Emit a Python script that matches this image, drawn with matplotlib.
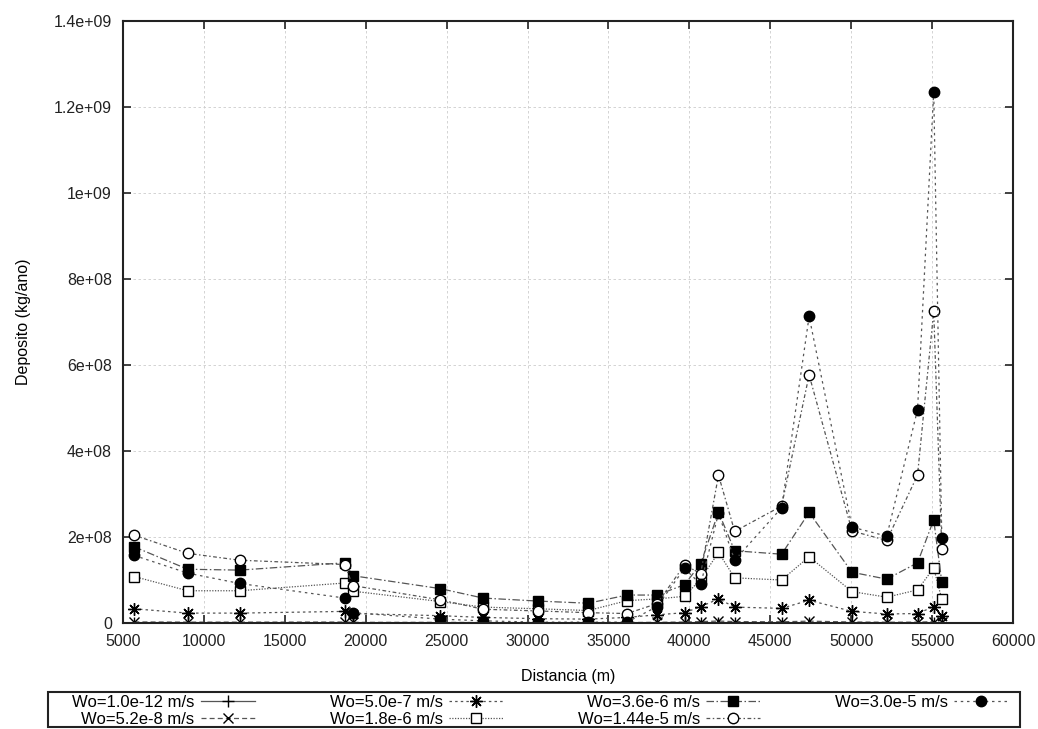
import matplotlib
matplotlib.use("Agg")
import matplotlib.pyplot as plt
from matplotlib.patches import Rectangle

plt.rcParams['font.family'] = ['Liberation Sans', 'DejaVu Sans']

# distance (m)
distancia = [5700, 9000, 12200, 18700, 19200, 24600, 27250, 30650, 33750, 36150, 38000,
             39700, 40700, 41800, 42800, 45700, 47400, 50050, 52200, 54100, 55100, 55600]

# deposit (kg/ano) for each settling velocity
dep_1_0e_12 = [0.2e6, 0.2e6, 0.2e6, 0.2e6, 0.2e6, 0.2e6, 0.2e6, 0.2e6, 0.2e6, 0.2e6, 0.2e6,
               0.2e6, 0.2e6, 0.3e6, 0.2e6, 0.2e6, 0.3e6, 0.2e6, 0.2e6, 0.2e6, 0.3e6, 0.2e6]
dep_5_2e_8 = [2.5e6, 2.0e6, 2.0e6, 2.2e6, 1.5e6, 1.5e6, 1.0e6, 0.8e6, 0.7e6, 1.0e6, 1.6e6,
              2.2e6, 3.3e6, 4.5e6, 3.2e6, 2.8e6, 4.3e6, 2.3e6, 1.8e6, 1.9e6, 3.2e6, 1.3e6]
dep_5_0e_7 = [3.3e7, 2.3e7, 2.3e7, 2.7e7, 2.2e7, 1.7e7, 1.3e7, 1.0e7, 0.9e7, 1.3e7, 1.9e7,
              2.4e7, 3.8e7, 5.6e7, 3.7e7, 3.4e7, 5.3e7, 2.7e7, 2.1e7, 2.2e7, 3.8e7, 1.6e7]
dep_1_8e_6 = [1.08e8, 7.5e7, 7.5e7, 9.3e7, 7.4e7, 5.0e7, 3.7e7, 3.3e7, 2.9e7, 5.2e7, 5.6e7,
              6.2e7, 1.02e8, 1.64e8, 1.05e8, 1.0e8, 1.54e8, 7.3e7, 6.0e7, 7.7e7, 1.28e8, 5.5e7]
dep_3_6e_6 = [1.77e8, 1.25e8, 1.23e8, 1.40e8, 1.10e8, 8.0e7, 5.8e7, 5.1e7, 4.6e7, 6.5e7, 6.5e7,
              8.9e7, 1.38e8, 2.58e8, 1.68e8, 1.60e8, 2.57e8, 1.18e8, 1.02e8, 1.40e8, 2.40e8, 9.5e7]
dep_1_44e_5 = [2.04e8, 1.62e8, 1.46e8, 1.36e8, 8.7e7, 5.4e7, 3.2e7, 2.8e7, 2.4e7, 2.2e7, 4.5e7,
               1.35e8, 1.15e8, 3.44e8, 2.13e8, 2.72e8, 5.77e8, 2.14e8, 1.92e8, 3.44e8, 7.25e8, 1.72e8]
dep_3_0e_5 = [1.57e8, 1.16e8, 9.2e7, 5.8e7, 2.4e7, 9e6, 5e6, 2e6, 2e6, 2e6, 3.8e7,
              1.27e8, 9.0e7, 2.55e8, 1.46e8, 2.68e8, 7.13e8, 2.23e8, 2.02e8, 4.96e8, 1.236e9, 1.98e8]

labels = ["Wo=1.0e-12 m/s", "Wo=5.2e-8 m/s", "Wo=5.0e-7 m/s", "Wo=1.8e-6 m/s",
          "Wo=3.6e-6 m/s", "Wo=1.44e-5 m/s", "Wo=3.0e-5 m/s"]

x_ticks = [5000, 10000, 15000, 20000, 25000, 30000, 35000, 40000, 45000, 50000, 55000, 60000]
y_ticks = [0, 2e8, 4e8, 6e8, 8e8, 1e9, 1.2e9, 1.4e9]
y_ticklabels = ["0", "2e+08", "4e+08", "6e+08", "8e+08", "1e+09", "1.2e+09", "1.4e+09"]

series = [dep_1_0e_12, dep_5_2e_8, dep_5_0e_7, dep_1_8e_6, dep_3_6e_6, dep_1_44e_5, dep_3_0e_5]
styles = [
    dict(ls='-', marker='+', mfc='black', ms=9),
    dict(ls=(0, (4, 2.5)), marker='x', mfc='black', ms=7),
    dict(ls=(0, (2, 2.5)), marker=(8, 2, 0), mfc='black', ms=9),
    dict(ls=(0, (1, 1.2)), marker='s', mfc='white', ms=7.5),
    dict(ls=(0, (6, 2, 1.2, 2)), marker='s', mfc='black', ms=7.5),
    dict(ls=(0, (3, 2, 1.2, 2)), marker='o', mfc='white', ms=7.5),
    dict(ls=(0, (2, 3)), marker='o', mfc='black', ms=7.5),
]

fig = plt.figure(figsize=(10.38, 7.29), dpi=100)
ax = fig.add_axes([123/1038, 1 - 623/729, (1013-123)/1038, (623-21)/729])

for vals, lab, st in zip(series, labels, styles):
    ax.plot(distancia, vals, color='#555555', lw=0.9, ls=st['ls'], marker=st['marker'],
            mfc=st['mfc'], mec='black', mew=1.0, ms=st['ms'], label=lab)

ax.set_xlim(5000, 60000)
ax.set_ylim(0, 1.4e9)
ax.set_xticks(x_ticks)
ax.set_xticklabels([str(t) for t in x_ticks])
ax.set_yticks(y_ticks)
ax.set_yticklabels(y_ticklabels)
ax.grid(True, color='#cccccc', ls=(0, (3, 3)), lw=0.6)
ax.set_axisbelow(True)
for sp in ax.spines.values():
    sp.set_linewidth(1.5)
    sp.set_color('#222222')
ax.tick_params(direction='in', top=True, right=True, length=6, width=1.2,
               labelsize=11.5, pad=8, colors='#222222')
ax.set_xlabel("Distancia (m)", fontsize=11.5, labelpad=14)
ax.set_ylabel("Deposito (kg/ano)", fontsize=11.5, labelpad=16)

# legend frame (drawn separately, as in the gnuplot key box)
fig.patches.append(Rectangle((48/1038, 1 - 727/729), (1020-48)/1038, 35/729,
                             transform=fig.transFigure, fill=False,
                             edgecolor='#222222', lw=1.5))

leg = fig.legend(loc='center', bbox_to_anchor=(540/1038, 1 - 711/729),
                 ncol=4, markerfirst=False, fontsize=12, numpoints=1,
                 handlelength=3.2, handletextpad=0.4, labelspacing=0.12, borderpad=0,
                 columnspacing=4.5, frameon=False)

fig.savefig("out.png", dpi=100)
